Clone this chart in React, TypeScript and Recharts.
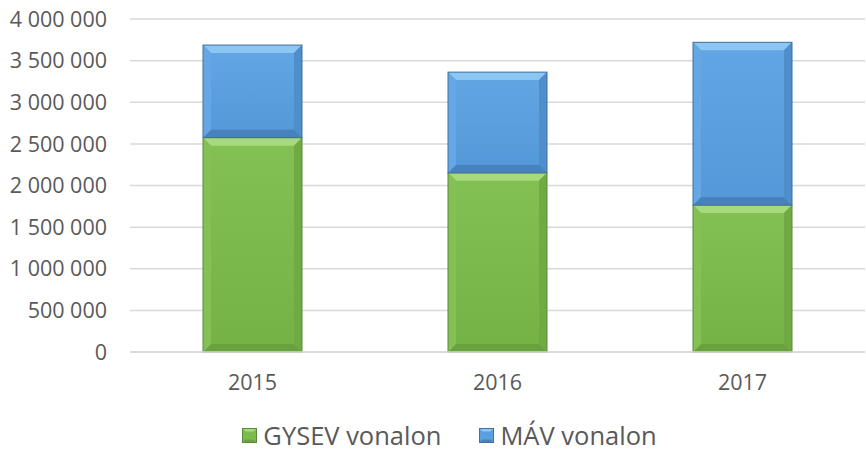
import { BarChart, Bar, XAxis, YAxis, CartesianGrid, Legend } from "recharts";

const years = ["2015", "2016", "2017"];
const gysev = [2575000, 2152000, 1765000];
const mav = [1112000, 1210000, 1955000];
const yTicks = [0, 500000, 1000000, 1500000, 2000000, 2500000, 3000000, 3500000, 4000000];

const data = years.map((year, i) => ({ year, gysev: gysev[i], mav: mav[i] }));

const PALETTE: Record<string, any> = {
  gysev: { face: "#7cba4c", top: "#a6da7a", bottom: "#67a23d", left: "#84c055", right: "#6fab42", stroke: "#5a8a3a", g1: "#84c154", g2: "#74b246" },
  mav: { face: "#5a9fdf", top: "#8cc6f2", bottom: "#4782bf", left: "#65a7e4", right: "#4f8dcb", stroke: "#41719c", g1: "#63a6e4", g2: "#5398d8" },
};

const fmt = (v: number) => String(v).replace(/\B(?=(\d{3})+(?!\d))/g, " ");

function BevelBar(props: any) {
  const { x, y, width: w, height: h, dataKey } = props;
  if (!h || h <= 0) return null;
  const c = PALETTE[dataKey];
  const b = Math.min(8, h / 2, w / 2);
  return (
    <g>
      <rect x={x} y={y} width={w} height={h} fill={`url(#face-${dataKey})`} />
      <polygon points={`${x},${y} ${x + w},${y} ${x + w - b},${y + b} ${x + b},${y + b}`} fill={c.top} />
      <polygon points={`${x},${y + h} ${x + w},${y + h} ${x + w - b},${y + h - b} ${x + b},${y + h - b}`} fill={c.bottom} />
      <polygon points={`${x},${y} ${x + b},${y + b} ${x + b},${y + h - b} ${x},${y + h}`} fill={c.left} />
      <polygon points={`${x + w},${y} ${x + w - b},${y + b} ${x + w - b},${y + h - b} ${x + w},${y + h}`} fill={c.right} />
      <rect x={x} y={y} width={w} height={h} fill="none" stroke={c.stroke} strokeWidth={1} />
    </g>
  );
}

function LegendContent() {
  const items = [
    { key: "gysev", label: "GYSEV vonalon" },
    { key: "mav", label: "MÁV vonalon" },
  ];
  return (
    <div style={{ display: "flex", justifyContent: "center", alignItems: "center", fontFamily: "Open Sans", fontSize: 25.5, lineHeight: "30px", color: "#595959", height: 30, paddingLeft: 34 }}>
      {items.map((it, i) => {
        const c = PALETTE[it.key];
        return (
          <div key={it.key} style={{ display: "flex", alignItems: "center", marginRight: i === 0 ? 38 : 0 }}>
            <svg width={15} height={15} style={{ marginRight: 6, marginTop: 1 }}>
              <rect x={0} y={0} width={15} height={15} fill={c.face} />
              <polygon points="0,0 15,0 11.5,3.5 3.5,3.5" fill={c.top} />
              <polygon points="0,15 15,15 11.5,11.5 3.5,11.5" fill={c.bottom} />
              <rect x={0.5} y={0.5} width={14} height={14} fill="none" stroke={c.stroke} />
            </svg>
            <span>{it.label}</span>
          </div>
        );
      })}
    </div>
  );
}

export default function App() {
  const tick = { fill: "#595959", fontSize: 21.5, fontFamily: "Open Sans" };
  return (
    <div style={{ position: "absolute", left: 0, top: 0, background: "#fff" }}>
      <BarChart width={866} height={451} data={data} margin={{ top: 19, right: 1, bottom: 0, left: 0 }}>
        <defs>
          {Object.keys(PALETTE).map((k) => (
            <linearGradient key={k} id={`face-${k}`} x1="0" y1="0" x2="0" y2="1">
              <stop offset="0%" stopColor={PALETTE[k].g1} />
              <stop offset="100%" stopColor={PALETTE[k].g2} />
            </linearGradient>
          ))}
        </defs>
        <CartesianGrid vertical={false} stroke="#d9d9d9" strokeWidth={1.5} />
        <XAxis dataKey="year" tick={tick} axisLine={{ stroke: "#d9d9d9", strokeWidth: 1.5 }} tickLine={false} tickSize={6} tickMargin={17} height={69} />
        <YAxis domain={[0, 4000000]} ticks={yTicks} tickFormatter={fmt} tick={tick} axisLine={false} tickLine={false} tickSize={6} tickMargin={17} width={130} interval={0} />
        <Legend verticalAlign="bottom" content={<LegendContent />} wrapperStyle={{ bottom: 1 }} />
        <Bar dataKey="gysev" stackId="a" fill={PALETTE.gysev.face} barSize={99} shape={(p: any) => <BevelBar {...p} dataKey="gysev" />} isAnimationActive={false} />
        <Bar dataKey="mav" stackId="a" fill={PALETTE.mav.face} barSize={99} shape={(p: any) => <BevelBar {...p} dataKey="mav" />} isAnimationActive={false} />
      </BarChart>
    </div>
  );
}
